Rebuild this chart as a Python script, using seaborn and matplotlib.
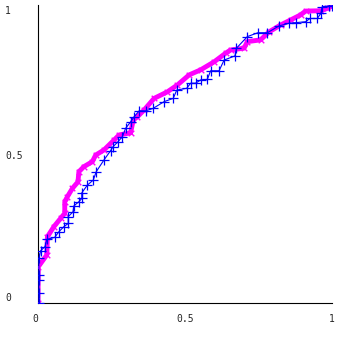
import matplotlib
matplotlib.use("Agg")
import matplotlib.pyplot as plt
import seaborn as sns
import pandas as pd

# magenta curve (dense 'x' points)
mag_x = [0.0, 0.001, 0.030, 0.032, 0.054, 0.077, 0.091, 0.091, 0.100, 0.117,
         0.136, 0.139, 0.156, 0.185, 0.196, 0.224, 0.259, 0.276, 0.315, 0.324,
         0.338, 0.361, 0.395, 0.440, 0.474, 0.514, 0.553, 0.599, 0.638, 0.655,
         0.701, 0.712, 0.757, 0.786, 0.825, 0.859, 0.893, 0.910, 0.962, 0.984,
         1.0]
mag_y = [0.0, 0.122, 0.162, 0.223, 0.257, 0.285, 0.302, 0.341, 0.358, 0.386,
         0.408, 0.442, 0.459, 0.476, 0.498, 0.515, 0.549, 0.566, 0.573, 0.616,
         0.627, 0.650, 0.689, 0.711, 0.734, 0.768, 0.785, 0.812, 0.841, 0.852,
         0.858, 0.880, 0.886, 0.913, 0.936, 0.953, 0.970, 0.983, 0.984, 0.992,
         1.0]

# blue curve ('+' points joined by a line)
blue_x = [0.003, 0.003, 0.003, 0.003, 0.003, 0.009, 0.024, 0.030, 0.057, 0.071,
          0.088, 0.103, 0.103, 0.119, 0.122, 0.139, 0.149, 0.149, 0.168, 0.188,
          0.198, 0.224, 0.247, 0.255, 0.272, 0.287, 0.298, 0.315, 0.327, 0.344,
          0.366, 0.391, 0.429, 0.460, 0.472, 0.506, 0.519, 0.536, 0.553, 0.576,
          0.587, 0.616, 0.633, 0.670, 0.675, 0.712, 0.748, 0.780, 0.820, 0.854,
          0.877, 0.910, 0.925, 0.950, 0.962, 0.967, 0.990, 1.0]
blue_y = [0.0, 0.033, 0.077, 0.094, 0.150, 0.176, 0.190, 0.214, 0.221, 0.240,
          0.257, 0.268, 0.291, 0.307, 0.327, 0.341, 0.352, 0.371, 0.397, 0.414,
          0.442, 0.481, 0.513, 0.526, 0.543, 0.560, 0.588, 0.610, 0.627, 0.647,
          0.647, 0.655, 0.678, 0.689, 0.717, 0.723, 0.740, 0.740, 0.751, 0.753,
          0.782, 0.782, 0.818, 0.832, 0.858, 0.897, 0.910, 0.910, 0.933, 0.942,
          0.944, 0.947, 0.958, 0.958, 0.975, 0.998, 1.0, 1.0]

tick_vals = [0, 0.5, 1]
tick_labels = ["0", "0.5", "1"]

mag = pd.DataFrame({"x": mag_x, "y": mag_y})
blue = pd.DataFrame({"x": blue_x, "y": blue_y})

sns.set_style("white")
plt.rcParams["font.family"] = ["DejaVu Sans Mono"]

fig = plt.figure(figsize=(3.39, 3.37), dpi=100)
ax = fig.add_axes([38 / 339, 34 / 337, 294 / 339, 298 / 337])

sns.lineplot(data=mag, x="x", y="y", sort=False, estimator=None, ax=ax,
             color="#ff00ff", linewidth=3.5, solid_capstyle="butt")
sns.scatterplot(data=mag, x="x", y="y", ax=ax, marker="x", color="#ff00ff",
                s=16, linewidth=1.0, zorder=3)
sns.lineplot(data=blue, x="x", y="y", sort=False, estimator=None, ax=ax,
             color="#0000ff", linewidth=0.8, marker="+", markersize=7,
             markeredgewidth=0.9, markeredgecolor="#0000ff", zorder=4)

ax.set_xlim(0, 1)
ax.set_ylim(0, 1.0034)
ax.set_xlabel("")
ax.set_ylabel("")
for s in ["top", "right"]:
    ax.spines[s].set_visible(False)
for s in ["left", "bottom"]:
    ax.spines[s].set_color("black")
    ax.spines[s].set_linewidth(0.8)

ax.set_xticks(tick_vals)
ax.set_xticklabels(tick_labels, fontsize=7)
ax.set_yticks(tick_vals)
ax.set_yticklabels(tick_labels, fontsize=7)
ax.tick_params(axis="both", direction="out", length=3.6, width=0.8, color="black")
ax.tick_params(axis="y", pad=20)
ax.tick_params(axis="x", pad=4)

# only the middle ticks show a tick mark
for t in [ax.xaxis.get_major_ticks()[0], ax.xaxis.get_major_ticks()[2],
          ax.yaxis.get_major_ticks()[0], ax.yaxis.get_major_ticks()[2]]:
    t.tick1line.set_visible(False)

ylabs = ax.get_yticklabels()
for lab in ylabs:
    lab.set_horizontalalignment("left")
ylabs[0].set_verticalalignment("bottom")
ylabs[2].set_verticalalignment("top")
xlabs = ax.get_xticklabels()
xlabs[0].set_horizontalalignment("right")

fig.savefig("out.png", dpi=100)
